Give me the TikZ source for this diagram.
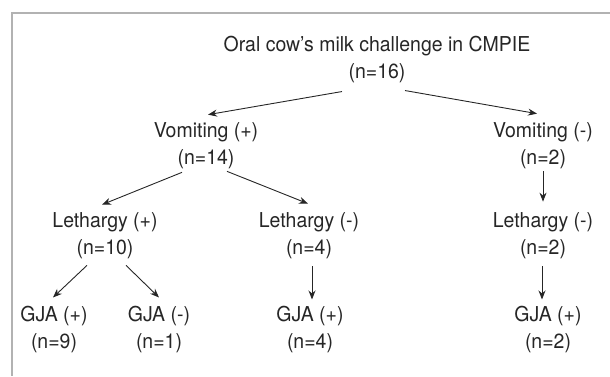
\documentclass[tikz,border=0pt]{standalone}
\usepackage{fontspec}
\setmainfont{TeX Gyre Heros}[FakeStretch=0.95]
\usetikzlibrary{arrows.meta}

\begin{document}
\begin{tikzpicture}[
  x=1pt, y=-1pt,
  lbl/.style={align=center, inner sep=0pt, text=black!85,
    font=\fontsize{20.5}{27}\selectfont},
  arr/.style={-{Stealth[length=9pt,width=7pt]}, line width=0.9pt, black!85}
]
\useasboundingbox (0,0) rectangle (610,376);
\draw[black!30, line width=1.3pt] (610,13) -- (12,13) -- (12,376);

\node[lbl] (root)  at (377,60)  {Oral cow’s milk challenge in CMPIE\\(n=16)};
\node[lbl] (vomp)  at (206,146) {Vomiting (+)\\(n=14)};
\node[lbl] (vomm)  at (543,146) {Vomiting (-)\\(n=2)};
\node[lbl] (lethp) at (105,236) {Lethargy (+)\\(n=10)};
\node[lbl] (lethm) at (309,236) {Lethargy (-)\\(n=4)};
\node[lbl] (lethr) at (543,236) {Lethargy (-)\\(n=2)};
\node[lbl] (gjapa) at (54,330)  {GJA (+)\\(n=9)};
\node[lbl] (gjama) at (159,330) {GJA (-)\\(n=1)};
\node[lbl] (gjapb) at (310,330) {GJA (+)\\(n=4)};
\node[lbl] (gjapc) at (548,330) {GJA (+)\\(n=2)};

\draw[arr] ([xshift=-35pt,yshift=-8pt]root.south) -- ([xshift=2pt,yshift=8pt]vomp.north);
\draw[arr] ([xshift=28pt,yshift=-7pt]root.south) -- ([xshift=-6pt,yshift=9pt]vomm.north);
\draw[arr] ([xshift=-24pt,yshift=-3pt]vomp.south) -- ([xshift=-3pt,yshift=8pt]lethp.north);
\draw[arr] ([xshift=21pt,yshift=-2pt]vomp.south) -- ([xshift=-1pt,yshift=9pt]lethm.north);
\draw[arr] ([yshift=-2pt]vomm.south) -- ([yshift=11pt]lethr.north);
\draw[arr] ([xshift=-18pt,yshift=-6pt]lethp.south) -- ([xshift=-1pt,yshift=9pt]gjapa.north);
\draw[arr] ([xshift=21pt,yshift=-6pt]lethp.south) -- ([yshift=9pt]gjama.north);
\draw[arr] ([xshift=3pt,yshift=-7pt]lethm.south) -- ([xshift=2pt,yshift=7pt]gjapb.north);
\draw[arr] ([xshift=-1pt,yshift=-7pt]lethr.south) -- ([xshift=-6pt,yshift=7pt]gjapc.north);
\end{tikzpicture}
\end{document}
